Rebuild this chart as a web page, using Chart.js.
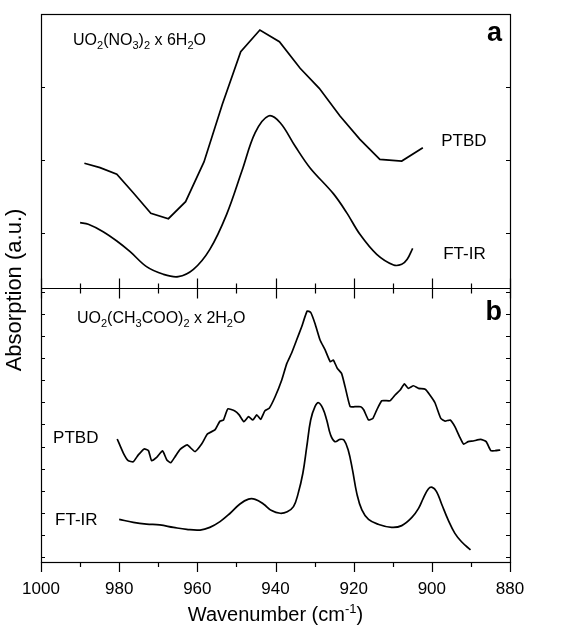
<!DOCTYPE html>
<html>
<head>
<meta charset="utf-8">
<script src="https://cdn.jsdelivr.net/npm/chart.js@4/dist/chart.umd.min.js"></script>
<style>
  html, body { margin: 0; padding: 0; background: #ffffff; }
  #wrap { width: 573px; height: 632px; }
</style>
</head>
<body>
<div id="wrap"><canvas id="c" width="573" height="632"></canvas></div>
<script>
// ---------- data ----------
const xTickLabels = [1000, 980, 960, 940, 920, 900, 880];

// Panel a : UO2(NO3)2 x 6H2O
const ptbdA_wn  = [988.9, 984.9, 980.6, 976.4, 971.9, 967.4, 963.0, 958.3, 953.6, 948.9, 944.0, 939.0, 933.7, 928.8, 923.5, 918.4, 913.3, 907.7, 902.3];
const ptbdA_abs = [0.955, 0.895, 0.804, 0.552, 0.270, 0.196, 0.429, 0.973, 1.763, 2.484, 2.781, 2.621, 2.256, 1.982, 1.603, 1.283, 1.009, 0.986, 1.169];

const ftirA_wn  = [990.0, 987.9, 984.1, 980.6, 977.2, 973.0, 968.7, 964.9, 961.0, 956.8, 952.5, 948.6, 945.2, 941.8, 938.8, 935.0, 931.2, 925.2, 921.8, 918.4, 914.1, 909.8, 907.7, 906.3, 904.9];
const ftirA_abs = [0.141, 0.119, 0.018, -0.110, -0.256, -0.461, -0.566, -0.598, -0.498, -0.224, 0.256, 0.849, 1.374, 1.603, 1.511, 1.192, 0.895, 0.539, 0.279, -0.018, -0.292, -0.438, -0.429, -0.361, -0.210];

// Panel b : UO2(CH3COO)2 x 2H2O
const ptbdB_wn  = [980.5, 978.9, 977.7, 976.4, 975.1, 973.6, 972.5, 971.7, 970.4, 968.9, 967.8, 966.8, 965.7, 964.4, 962.6, 960.6, 958.9, 957.4, 955.5, 954.2, 953.3, 952.2, 950.4, 949.3, 948.1, 946.9, 945.8, 944.8, 943.8, 942.7, 941.6, 940.1, 938.4, 937.1, 935.9, 934.6, 933.3, 931.9, 931.0, 929.9, 928.6, 927.3, 926.0, 925.2, 924.2, 923.1, 922.2, 920.9, 919.7, 918.2, 917.4, 916.2, 915.1, 914.1, 912.8, 910.7, 909.4, 908.1, 907.0, 906.0, 904.7, 903.4, 901.7, 900.5, 899.2, 897.7, 896.6, 895.3, 894.1, 892.9, 891.9, 890.7, 889.4, 887.5, 886.1, 884.9, 883.8, 882.5];
const ptbdB_abs = [5.34, 4.69, 4.36, 4.31, 4.62, 4.89, 4.81, 4.36, 4.51, 4.80, 4.39, 4.27, 4.54, 4.87, 5.07, 4.77, 5.11, 5.57, 5.75, 6.15, 6.20, 6.70, 6.61, 6.43, 6.12, 6.35, 6.20, 6.43, 6.23, 6.62, 6.73, 7.25, 8.01, 8.76, 9.22, 9.82, 10.42, 11.13, 11.07, 10.57, 9.82, 9.37, 8.84, 8.91, 8.54, 8.31, 7.71, 6.80, 6.80, 6.80, 6.65, 6.20, 6.27, 6.65, 7.07, 7.07, 7.33, 7.56, 7.83, 7.63, 7.75, 7.63, 7.59, 7.33, 6.98, 6.27, 6.15, 6.20, 5.90, 5.44, 5.11, 5.22, 5.25, 5.32, 5.22, 4.81, 4.81, 4.84];

const ftirB_wn  = [980.0, 976.4, 973.0, 969.6, 966.1, 962.7, 959.3, 956.8, 954.2, 951.6, 949.1, 946.9, 945.2, 943.1, 941.0, 938.8, 937.0, 935.4, 934.2, 933.0, 932.0, 931.0, 929.9, 929.0, 927.9, 926.9, 925.9, 924.8, 923.5, 922.5, 921.4, 920.3, 919.2, 917.9, 916.2, 913.7, 910.3, 907.7, 905.1, 903.4, 902.2, 900.9, 899.9, 898.8, 897.5, 895.8, 894.1, 892.4, 890.1];
const ftirB_abs = [1.70, 1.57, 1.49, 1.45, 1.34, 1.25, 1.22, 1.34, 1.60, 1.98, 2.40, 2.62, 2.61, 2.40, 2.10, 1.98, 2.05, 2.28, 2.88, 3.79, 4.99, 6.20, 6.80, 6.98, 6.73, 6.20, 5.52, 5.22, 5.32, 5.29, 4.84, 3.94, 2.88, 2.13, 1.70, 1.48, 1.34, 1.42, 1.79, 2.20, 2.65, 3.08, 3.15, 2.96, 2.40, 1.67, 1.07, 0.69, 0.32];

// y tick positions (unlabelled) for each panel
const yTicksA = [0, 1, 2];
const yTicksB = [0, 1, 2, 3, 4, 5, 6, 7, 8, 9, 10, 11, 12];

// ---------- chart ----------
const FONT = '"Liberation Sans", Arial, Helvetica, sans-serif';
const toXY = (xs, ys) => xs.map((x, i) => ({ x: x, y: ys[i] }));

function lineDS(label, xs, ys, axis, tension) {
  return {
    label: label,
    data: toXY(xs, ys),
    yAxisID: axis,
    borderColor: '#000000',
    borderWidth: 1.7,
    pointRadius: 0,
    fill: false,
    tension: tension
  };
}

const PANEL_A_BOTTOM = -0.75;   // value on axis ya where panel a ends

const decor = {
  id: 'decor',
  afterDraw(chart) {
    const ctx = chart.ctx;
    const xs = chart.scales.x, ya = chart.scales.ya, yb = chart.scales.yb;
    const L = chart.chartArea.left, R = chart.chartArea.right;
    const T = chart.chartArea.top, B = chart.chartArea.bottom;
    const mid = Math.round(ya.getPixelForValue(PANEL_A_BOTTOM)) + 0.5;
    ctx.save();
    ctx.strokeStyle = '#000';
    ctx.lineWidth = 1.2;
    // frame
    ctx.strokeRect(Math.round(L) + 0.5, Math.round(T) + 0.5, Math.round(R - L), Math.round(B - T));
    ctx.beginPath();
    ctx.moveTo(L, mid); ctx.lineTo(R, mid);
    ctx.stroke();
    // x ticks
    ctx.beginPath();
    for (let v = 880; v <= 1000; v += 10) {
      const p = Math.round(xs.getPixelForValue(v)) + 0.5;
      const major = (v % 20 === 0);
      const len = major ? 10 : 5;
      ctx.moveTo(p, B); ctx.lineTo(p, B + len);
      ctx.moveTo(p, mid - len); ctx.lineTo(p, mid + len);
    }
    // y ticks, inward on both sides
    yTicksA.forEach(v => {
      const p = Math.round(ya.getPixelForValue(v)) + 0.5;
      ctx.moveTo(L, p); ctx.lineTo(L + 4, p);
      ctx.moveTo(R, p); ctx.lineTo(R - 4, p);
    });
    yTicksB.forEach(v => {
      const p = Math.round(yb.getPixelForValue(v)) + 0.5;
      ctx.moveTo(L, p); ctx.lineTo(L + 4, p);
      ctx.moveTo(R, p); ctx.lineTo(R - 4, p);
    });
    ctx.stroke();

    ctx.fillStyle = '#000';
    // chemical formula with subscripts
    function formula(parts, x, y, size) {
      let cx = x;
      parts.forEach(([txt, sub]) => {
        ctx.font = (sub ? Math.round(size * 0.68) : size) + 'px ' + FONT;
        ctx.textAlign = 'left';
        ctx.textBaseline = 'alphabetic';
        ctx.fillText(txt, cx, sub ? y + size * 0.3 : y);
        cx += ctx.measureText(txt).width;
      });
    }
    formula([['UO', 0], ['2', 1], ['(NO', 0], ['3', 1], [')', 0], ['2', 1], [' x 6H', 0], ['2', 1], ['O', 0]],
            xs.getPixelForValue(991.8), ya.getPixelForValue(2.58), 16);
    formula([['UO', 0], ['2', 1], ['(CH', 0], ['3', 1], ['COO)', 0], ['2', 1], [' x 2H', 0], ['2', 1], ['O', 0]],
            xs.getPixelForValue(990.8), yb.getPixelForValue(10.61), 16);

    // series names
    ctx.font = '17px ' + FONT;
    ctx.textAlign = 'left';
    ctx.textBaseline = 'middle';
    ctx.fillText('PTBD', xs.getPixelForValue(897.6), ya.getPixelForValue(1.26));
    ctx.fillText('FT-IR', xs.getPixelForValue(897.1), ya.getPixelForValue(-0.29));
    ctx.fillText('PTBD', xs.getPixelForValue(996.9), yb.getPixelForValue(5.38));
    ctx.fillText('FT-IR', xs.getPixelForValue(996.4), yb.getPixelForValue(1.67));

    // panel letters
    ctx.font = 'bold 27px ' + FONT;
    ctx.textAlign = 'right';
    ctx.textBaseline = 'alphabetic';
    ctx.fillText('a', R - 8, T + 27);
    ctx.fillText('b', R - 8, mid + 31);

    // x-axis title with superscript
    const cxm = (L + R) / 2;
    const tb = 621;
    ctx.font = '20px ' + FONT;
    const w1 = ctx.measureText('Wavenumber (cm').width;
    const w3 = ctx.measureText(')').width;
    ctx.font = '13px ' + FONT;
    const w2 = ctx.measureText('-1').width;
    let x0 = cxm - (w1 + w2 + w3) / 2;
    ctx.textAlign = 'left';
    ctx.font = '20px ' + FONT;
    ctx.fillText('Wavenumber (cm', x0, tb);
    ctx.font = '13px ' + FONT;
    ctx.fillText('-1', x0 + w1, tb - 8);
    ctx.font = '20px ' + FONT;
    ctx.fillText(')', x0 + w1 + w2, tb);

    // y-axis title
    ctx.translate(21, (T + B) / 2 + 2);
    ctx.rotate(-Math.PI / 2);
    ctx.font = '22px ' + FONT;
    ctx.textAlign = 'center';
    ctx.textBaseline = 'alphabetic';
    ctx.fillText('Absorption (a.u.)', 0, 0);
    ctx.restore();
  }
};

new Chart(document.getElementById('c'), {
  type: 'line',
  data: {
    datasets: [
      lineDS('PTBD a', ptbdA_wn, ptbdA_abs, 'ya', 0),
      lineDS('FT-IR a', ftirA_wn, ftirA_abs, 'ya', 0.35),
      lineDS('PTBD b', ptbdB_wn, ptbdB_abs, 'yb', 0.15),
      lineDS('FT-IR b', ftirB_wn, ftirB_abs, 'yb', 0.4)
    ]
  },
  options: {
    responsive: false,
    animation: false,
    devicePixelRatio: 1,
    layout: { padding: { left: 41, right: 63, top: 14, bottom: 0 } },
    plugins: { legend: { display: false }, tooltip: { enabled: false } },
    scales: {
      x: {
        type: 'linear',
        reverse: true,
        min: 880,
        max: 1000,
        afterBuildTicks(scale) { scale.ticks = xTickLabels.map(v => ({ value: v })); },
        ticks: {
          color: '#000',
          font: { family: FONT, size: 17 },
          padding: 17,
          maxRotation: 0,
          autoSkip: false,
          callback: (v) => String(v)
        },
        grid: { display: false, drawTicks: false },
        border: { display: false },
        afterFit(scale) { scale.height = 70; }
      },
      ya: { type: 'linear', display: false, min: -4.507, max: 3.0 },
      yb: { type: 'linear', display: false, min: -0.226, max: 24.57 }
    }
  },
  plugins: [decor]
});
</script>
</body>
</html>
